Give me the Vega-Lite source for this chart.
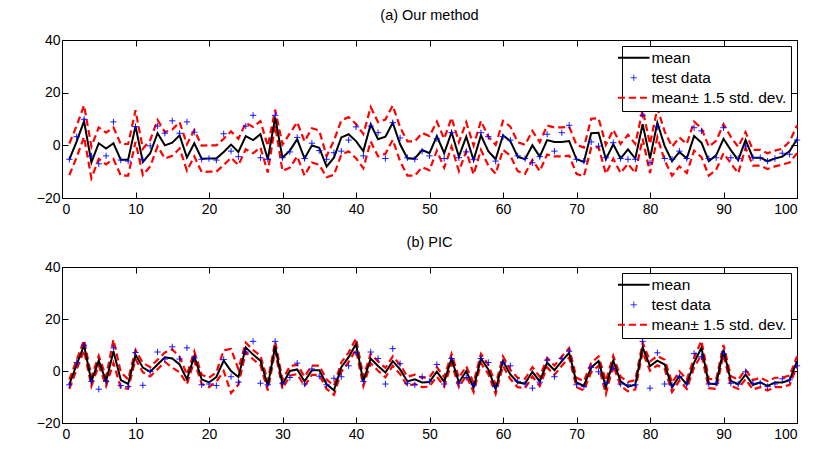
{
"$schema": "https://vega.github.io/schema/vega-lite/v6.json",
"padding": {"left": 35, "top": 7, "right": 5, "bottom": 5},
"config": {
  "font": "Liberation Sans",
  "view": {"stroke": "black", "strokeWidth": 1},
  "axis": {"grid": false, "domainColor": "black", "tickColor": "black", "tickSize": -6, "labelFontSize": 14, "labelColor": "black", "title": null},
  "axisX": {"labelPadding": 10},
  "axisY": {"labelPadding": 8},
  "title": {"fontSize": 14.5, "fontWeight": "normal", "font": "Liberation Sans", "anchor": "middle", "offset": 10, "color": "black"},
  "legend": {"orient": "top-right", "offset": 6, "fillColor": "white", "strokeColor": "black", "padding": 4, "labelFontSize": 15.5, "labelColor": "black", "symbolSize": 1000, "rowPadding": 3, "labelOffset": 10, "title": null}
},
"spacing": 17,
"resolve": {"scale": {"color": "independent"}},
"datasets": {
"a": [
{"x":1,"m":-5.3,"t":-5.3,"lo":-11.3,"hi":0.7},
{"x":2,"m":1.5,"t":3.3,"lo":-4.5,"hi":7.5},
{"x":3,"m":9.2,"t":9.9,"lo":3.2,"hi":15.2},
{"x":4,"m":-6.5,"t":-4,"lo":-12.5,"hi":-0.5},
{"x":5,"m":0.8,"t":-7,"lo":-5.2,"hi":6.8},
{"x":6,"m":-1.2,"t":-4,"lo":-7.2,"hi":4.8},
{"x":7,"m":0.8,"t":8.9,"lo":-5.2,"hi":6.8},
{"x":8,"m":-5.5,"t":-5.6,"lo":-11.5,"hi":0.5},
{"x":9,"m":-5.5,"t":-6,"lo":-11.5,"hi":0.5},
{"x":10,"m":7.3,"t":7.1,"lo":1.3,"hi":13.3},
{"x":11,"m":-6.3,"t":-5.5,"lo":-11.3,"hi":-1.3},
{"x":12,"m":-3,"t":-0.2,"lo":-8,"hi":2},
{"x":13,"m":4.6,"t":7.3,"lo":-0.4,"hi":9.6},
{"x":14,"m":0,"t":4.6,"lo":-5,"hi":5},
{"x":15,"m":1,"t":9.3,"lo":-4,"hi":6},
{"x":16,"m":3.8,"t":4.6,"lo":-1.2,"hi":8.8},
{"x":17,"m":-4.6,"t":8.9,"lo":-9.6,"hi":0.4},
{"x":18,"m":0.8,"t":5,"lo":-4.2,"hi":5.8},
{"x":19,"m":-5.1,"t":-5.3,"lo":-10.1,"hi":-0.1},
{"x":20,"m":-5,"t":-5,"lo":-10,"hi":0},
{"x":21,"m":-5,"t":-5.6,"lo":-10,"hi":0},
{"x":22,"m":-2.5,"t":4.4,"lo":-7.5,"hi":2.5},
{"x":23,"m":0.3,"t":-2.2,"lo":-4.7,"hi":5.3},
{"x":24,"m":-2.5,"t":-4.3,"lo":-7.5,"hi":2.5},
{"x":25,"m":3.5,"t":7.3,"lo":-1.5,"hi":8.5},
{"x":26,"m":2,"t":11.4,"lo":-3,"hi":7},
{"x":27,"m":4.2,"t":-4.7,"lo":-0.8,"hi":9.2},
{"x":28,"m":-5.3,"t":-5.3,"lo":-10.3,"hi":-0.3},
{"x":29,"m":10.5,"t":11.4,"lo":7.5,"hi":13.5},
{"x":30,"m":-4.7,"t":-4.7,"lo":-9.7,"hi":0.3},
{"x":31,"m":-2,"t":-2.5,"lo":-8.5,"hi":4.5},
{"x":32,"m":2.3,"t":3,"lo":-4.2,"hi":8.8},
{"x":33,"m":-5,"t":-5,"lo":-11.5,"hi":1.5},
{"x":34,"m":0,"t":0.8,"lo":-6.5,"hi":6.5},
{"x":35,"m":-0.9,"t":-2,"lo":-7.4,"hi":5.6},
{"x":36,"m":-8.1,"t":-5.3,"lo":-12.1,"hi":-4.1},
{"x":37,"m":-4.7,"t":-2.8,"lo":-11.2,"hi":1.8},
{"x":38,"m":3,"t":-2.2,"lo":-3.5,"hi":9.5},
{"x":39,"m":4.2,"t":2,"lo":-2.3,"hi":10.7},
{"x":40,"m":1.6,"t":7,"lo":-4.9,"hi":8.1},
{"x":41,"m":-2.2,"t":-4,"lo":-8.7,"hi":4.3},
{"x":42,"m":8,"t":7.3,"lo":1.5,"hi":14.5},
{"x":43,"m":2.3,"t":4.8,"lo":-4.2,"hi":8.8},
{"x":44,"m":3.3,"t":-5,"lo":-3.2,"hi":9.8},
{"x":45,"m":8.6,"t":8.6,"lo":2.1,"hi":15.1},
{"x":46,"m":0.4,"t":2.8,"lo":-6.1,"hi":6.9},
{"x":47,"m":-5,"t":-4.7,"lo":-11.5,"hi":1.5},
{"x":48,"m":-5,"t":-5.3,"lo":-11.5,"hi":1.5},
{"x":49,"m":-1.8,"t":-2.2,"lo":-8.3,"hi":4.7},
{"x":50,"m":-3,"t":-4,"lo":-9.5,"hi":3.5},
{"x":51,"m":3.5,"t":2.5,"lo":-2,"hi":9},
{"x":52,"m":-3,"t":-5,"lo":-8.5,"hi":2.5},
{"x":53,"m":5,"t":4.8,"lo":-0.5,"hi":10.5},
{"x":54,"m":-4.3,"t":-4.7,"lo":-9.8,"hi":1.2},
{"x":55,"m":3.3,"t":-2.5,"lo":-2.2,"hi":8.8},
{"x":56,"m":-5.6,"t":-5.3,"lo":-11.1,"hi":-0.1},
{"x":57,"m":3.8,"t":4.8,"lo":-1.7,"hi":9.3},
{"x":58,"m":-2.2,"t":3.3,"lo":-7.7,"hi":3.3},
{"x":59,"m":-5.3,"t":-6,"lo":-10.8,"hi":0.2},
{"x":60,"m":3.8,"t":3.3,"lo":-1.7,"hi":9.3},
{"x":61,"m":1.6,"t":2,"lo":-3.9,"hi":7.1},
{"x":62,"m":-4.3,"t":-4,"lo":-9.8,"hi":1.2},
{"x":63,"m":-5.3,"t":-5,"lo":-10.8,"hi":0.2},
{"x":64,"m":0,"t":-6.6,"lo":-5.5,"hi":5.5},
{"x":65,"m":-4.3,"t":-4.3,"lo":-9.8,"hi":1.2},
{"x":66,"m":2,"t":4.2,"lo":-3.5,"hi":7.5},
{"x":67,"m":1.3,"t":-2.2,"lo":-4.2,"hi":6.8},
{"x":68,"m":1.3,"t":4.8,"lo":-4.2,"hi":6.8},
{"x":69,"m":1.6,"t":7.6,"lo":-3.9,"hi":7.1},
{"x":70,"m":-5.3,"t":-5.3,"lo":-10.8,"hi":0.2},
{"x":71,"m":-6.3,"t":-6,"lo":-11.8,"hi":-0.8},
{"x":72,"m":4.6,"t":1.3,"lo":-0.9,"hi":10.1},
{"x":73,"m":4.8,"t":-0.3,"lo":-0.7,"hi":10.3},
{"x":74,"m":-5.3,"t":-4.7,"lo":-10.8,"hi":0.2},
{"x":75,"m":0.4,"t":1,"lo":-5.1,"hi":5.9},
{"x":76,"m":-5,"t":-5,"lo":-10.5,"hi":0.5},
{"x":77,"m":-1.5,"t":-5.3,"lo":-7,"hi":4},
{"x":78,"m":-5,"t":-5.3,"lo":-10.5,"hi":0.5},
{"x":79,"m":8,"t":11.4,"lo":2.5,"hi":13.5},
{"x":80,"m":-5,"t":-6.6,"lo":-10.5,"hi":0.5},
{"x":81,"m":8.6,"t":7,"lo":3.1,"hi":14.1},
{"x":82,"m":-0.3,"t":-5,"lo":-5.8,"hi":5.2},
{"x":83,"m":-6,"t":-5.3,"lo":-11.5,"hi":-0.5},
{"x":84,"m":-2.5,"t":-2.2,"lo":-8,"hi":3},
{"x":85,"m":-5,"t":-5,"lo":-10.5,"hi":0.5},
{"x":86,"m":3.5,"t":6.7,"lo":-2,"hi":9},
{"x":87,"m":1,"t":5.5,"lo":-4.5,"hi":6.5},
{"x":88,"m":-6,"t":-5,"lo":-11.5,"hi":-0.5},
{"x":89,"m":-3.8,"t":-4.7,"lo":-9.3,"hi":1.7},
{"x":90,"m":2.5,"t":6.7,"lo":-3,"hi":8},
{"x":91,"m":-1.8,"t":-4.7,"lo":-6.8,"hi":3.2},
{"x":92,"m":-5.6,"t":-5,"lo":-10.6,"hi":-0.6},
{"x":93,"m":2,"t":-0.3,"lo":-1,"hi":5},
{"x":94,"m":-4.7,"t":-4.7,"lo":-7.7,"hi":-1.7},
{"x":95,"m":-4.7,"t":-4.7,"lo":-7.7,"hi":-1.7},
{"x":96,"m":-6,"t":-6,"lo":-9,"hi":-3},
{"x":97,"m":-5,"t":-5,"lo":-8,"hi":-2},
{"x":98,"m":-4.3,"t":-3,"lo":-7.3,"hi":-1.3},
{"x":99,"m":-2.2,"t":-3.4,"lo":-6.5,"hi":1.5},
{"x":100,"m":2.3,"t":2,"lo":-3,"hi":7.5}
],
"b": [
{"x":1,"m":-5.1,"t":-5.3,"lo":-6.9,"hi":-3.3},
{"x":2,"m":2.5,"t":3.3,"lo":0.7,"hi":4.3},
{"x":3,"m":9.9,"t":9.9,"lo":7.9,"hi":11.9},
{"x":4,"m":-4,"t":-4,"lo":-5.8,"hi":-2.2},
{"x":5,"m":4,"t":-7,"lo":2.2,"hi":5.8},
{"x":6,"m":-4,"t":-4,"lo":-5.8,"hi":-2.2},
{"x":7,"m":7.6,"t":8.9,"lo":3.1,"hi":12.1},
{"x":8,"m":-3.5,"t":-5.6,"lo":-6.5,"hi":-0.5},
{"x":9,"m":-5,"t":-6,"lo":-6.8,"hi":-3.2},
{"x":10,"m":6.3,"t":7.1,"lo":4.5,"hi":8.1},
{"x":11,"m":1.3,"t":-5.5,"lo":-0.5,"hi":3.1},
{"x":12,"m":-0.3,"t":-0.2,"lo":-2.1,"hi":1.5},
{"x":13,"m":2.5,"t":7.3,"lo":0.7,"hi":4.3},
{"x":14,"m":5.3,"t":4.6,"lo":3.5,"hi":7.1},
{"x":15,"m":4.8,"t":9.3,"lo":1.3,"hi":8.3},
{"x":16,"m":2.5,"t":4.6,"lo":-0.5,"hi":5.5},
{"x":17,"m":-3.2,"t":8.9,"lo":-5,"hi":-1.4},
{"x":18,"m":5.7,"t":5,"lo":3.9,"hi":7.5},
{"x":19,"m":-3.2,"t":-5.3,"lo":-5,"hi":-1.4},
{"x":20,"m":-4.4,"t":-5,"lo":-6.2,"hi":-2.6},
{"x":21,"m":-2.3,"t":-5.6,"lo":-4.1,"hi":-0.5},
{"x":22,"m":4,"t":4.4,"lo":0,"hi":8},
{"x":23,"m":0,"t":-2.2,"lo":-8.5,"hi":8.5},
{"x":24,"m":-2.3,"t":-4.3,"lo":-5.3,"hi":0.7},
{"x":25,"m":9.1,"t":7.3,"lo":7.3,"hi":10.9},
{"x":26,"m":6.3,"t":11.4,"lo":4.5,"hi":8.1},
{"x":27,"m":4,"t":-4.7,"lo":2.2,"hi":5.8},
{"x":28,"m":-5.7,"t":-5.3,"lo":-7.5,"hi":-3.9},
{"x":29,"m":9.5,"t":11.4,"lo":7.7,"hi":11.3},
{"x":30,"m":-5.1,"t":-4.7,"lo":-6.9,"hi":-3.3},
{"x":31,"m":0,"t":-2.5,"lo":-1.8,"hi":1.8},
{"x":32,"m":0.6,"t":3,"lo":-1.2,"hi":2.4},
{"x":33,"m":-4,"t":-5,"lo":-5.8,"hi":-2.2},
{"x":34,"m":0.3,"t":0.8,"lo":-1.5,"hi":2.1},
{"x":35,"m":0.3,"t":-2,"lo":-1.5,"hi":2.1},
{"x":36,"m":-5.1,"t":-5.3,"lo":-6.9,"hi":-3.3},
{"x":37,"m":-7.4,"t":-2.8,"lo":-9.2,"hi":-5.6},
{"x":38,"m":1.5,"t":-2.2,"lo":-0.3,"hi":3.3},
{"x":39,"m":5.3,"t":2,"lo":3.5,"hi":7.1},
{"x":40,"m":10.4,"t":7,"lo":8.2,"hi":12.6},
{"x":41,"m":-4,"t":-4,"lo":-5.8,"hi":-2.2},
{"x":42,"m":4.8,"t":7.3,"lo":3,"hi":6.6},
{"x":43,"m":1.9,"t":4.8,"lo":0.1,"hi":3.7},
{"x":44,"m":-0.6,"t":-5,"lo":-2.4,"hi":1.2},
{"x":45,"m":3.8,"t":8.6,"lo":2,"hi":5.6},
{"x":46,"m":0.6,"t":2.8,"lo":-1.2,"hi":2.4},
{"x":47,"m":-4,"t":-4.7,"lo":-5.8,"hi":-2.2},
{"x":48,"m":-3.2,"t":-5.3,"lo":-5,"hi":-1.4},
{"x":49,"m":-4.4,"t":-2.2,"lo":-6.2,"hi":-2.6},
{"x":50,"m":-4.2,"t":-4,"lo":-6,"hi":-2.4},
{"x":51,"m":-0.3,"t":2.5,"lo":-2.1,"hi":1.5},
{"x":52,"m":-4.2,"t":-5,"lo":-6,"hi":-2.4},
{"x":53,"m":4.8,"t":4.8,"lo":3,"hi":6.6},
{"x":54,"m":-4.4,"t":-4.7,"lo":-6.2,"hi":-2.6},
{"x":55,"m":0,"t":-2.5,"lo":-1.8,"hi":1.8},
{"x":56,"m":-6.3,"t":-5.3,"lo":-8.1,"hi":-4.5},
{"x":57,"m":4.8,"t":4.8,"lo":3,"hi":6.6},
{"x":58,"m":0.6,"t":3.3,"lo":-1.2,"hi":2.4},
{"x":59,"m":-7,"t":-6,"lo":-8.8,"hi":-5.2},
{"x":60,"m":3.8,"t":3.3,"lo":2,"hi":5.6},
{"x":61,"m":-1.3,"t":2,"lo":-3.1,"hi":0.5},
{"x":62,"m":-4.4,"t":-4,"lo":-6.2,"hi":-2.6},
{"x":63,"m":-4.8,"t":-5,"lo":-6.6,"hi":-3},
{"x":64,"m":-0.3,"t":-6.6,"lo":-2.1,"hi":1.5},
{"x":65,"m":-4,"t":-4.3,"lo":-5.8,"hi":-2.2},
{"x":66,"m":3.2,"t":4.2,"lo":1.4,"hi":5},
{"x":67,"m":0.3,"t":-2.2,"lo":-1.5,"hi":2.1},
{"x":68,"m":3.8,"t":4.8,"lo":2,"hi":5.6},
{"x":69,"m":7,"t":7.6,"lo":5.2,"hi":8.8},
{"x":70,"m":-4.4,"t":-5.3,"lo":-6.2,"hi":-2.6},
{"x":71,"m":-5.7,"t":-6,"lo":-7.5,"hi":-3.9},
{"x":72,"m":1.3,"t":1.3,"lo":-0.5,"hi":3.1},
{"x":73,"m":3.8,"t":-0.3,"lo":2,"hi":5.6},
{"x":74,"m":-6.3,"t":-4.7,"lo":-8.8,"hi":-3.8},
{"x":75,"m":4,"t":1,"lo":2.2,"hi":5.8},
{"x":76,"m":-4,"t":-5,"lo":-5.8,"hi":-2.2},
{"x":77,"m":-6,"t":-5.3,"lo":-7.8,"hi":-4.2},
{"x":78,"m":-5.3,"t":-5.3,"lo":-7.1,"hi":-3.5},
{"x":79,"m":9.1,"t":11.4,"lo":7.3,"hi":10.9},
{"x":80,"m":1.9,"t":-6.6,"lo":0.1,"hi":3.7},
{"x":81,"m":4,"t":7,"lo":2.2,"hi":5.8},
{"x":82,"m":2.5,"t":-5,"lo":0.7,"hi":4.3},
{"x":83,"m":-6.3,"t":-5.3,"lo":-8.1,"hi":-4.5},
{"x":84,"m":-1.9,"t":-2.2,"lo":-3.7,"hi":-0.1},
{"x":85,"m":-5.1,"t":-5,"lo":-6.9,"hi":-3.3},
{"x":86,"m":3.2,"t":6.7,"lo":1.4,"hi":5},
{"x":87,"m":8.9,"t":5.5,"lo":6.2,"hi":11.6},
{"x":88,"m":-4.8,"t":-5,"lo":-6.6,"hi":-3},
{"x":89,"m":-5.1,"t":-4.7,"lo":-6.9,"hi":-3.3},
{"x":90,"m":8.2,"t":6.7,"lo":6.4,"hi":10},
{"x":91,"m":-3.8,"t":-4.7,"lo":-5.6,"hi":-2},
{"x":92,"m":-5.1,"t":-5,"lo":-6.9,"hi":-3.3},
{"x":93,"m":-1.3,"t":-0.3,"lo":-3.1,"hi":0.5},
{"x":94,"m":-5.3,"t":-4.7,"lo":-7.1,"hi":-3.5},
{"x":95,"m":-4.4,"t":-4.7,"lo":-6.2,"hi":-2.6},
{"x":96,"m":-5.7,"t":-6,"lo":-7.5,"hi":-3.9},
{"x":97,"m":-4.4,"t":-5,"lo":-6.2,"hi":-2.6},
{"x":98,"m":-4.4,"t":-3,"lo":-6.2,"hi":-2.6},
{"x":99,"m":-3.5,"t":-3.4,"lo":-5.3,"hi":-1.7},
{"x":100,"m":3.8,"t":2,"lo":2,"hi":5.6}
]
},
"vconcat": [
{
  "title": "(a) Our method",
  "width": 735, "height": 158,
  "data": {"name": "a"},
  "resolve": {"axis": {"x": "independent", "y": "independent"}},
  "layer": [
    {"mark": {"type": "line", "strokeDash": [7, 4], "strokeWidth": 2.2},
     "encoding": {
       "x": {"field": "x", "type": "quantitative", "scale": {"domain": [0, 100], "nice": false}, "axis": {"values": [0,10,20,30,40,50,60,70,80,90,100]}},
       "y": {"field": "hi", "type": "quantitative", "scale": {"domain": [-20, 40], "nice": false}, "axis": {"values": [-20, 0, 20, 40]}},
       "color": {"datum": "mean± 1.5 std. dev.", "type": "nominal", "scale": {"domain": ["mean", "test data", "mean± 1.5 std. dev."], "range": ["black", "blue", "red"]},
         "legend": {"encode": {"symbols": {"update": {
           "shape": {"signal": "datum.value === 'test data' ? 'M-1,0H1M0,-1V1' : 'stroke'"},
           "size": {"signal": "datum.value === 'test data' ? 40 : 1000"},
           "strokeDash": {"signal": "datum.value === 'mean± 1.5 std. dev.' ? [7,4] : [1,0]"},
           "strokeWidth": {"signal": "datum.value === 'test data' ? 0.9 : 2.2"},
           "fill": {"value": "transparent"}}}}}}}},
    {"mark": {"type": "line", "strokeDash": [7, 4], "strokeWidth": 2.2},
     "encoding": {
       "x": {"field": "x", "type": "quantitative", "axis": {"orient": "top", "labels": false, "domain": false, "values": [0,10,20,30,40,50,60,70,80,90,100]}},
       "y": {"field": "lo", "type": "quantitative", "axis": {"orient": "right", "labels": false, "domain": false, "values": [-20, 0, 20, 40]}},
       "color": {"datum": "mean± 1.5 std. dev.", "type": "nominal"}}},
    {"mark": {"type": "line", "strokeWidth": 2},
     "encoding": {"x": {"field": "x", "type": "quantitative", "axis": null}, "y": {"field": "m", "type": "quantitative", "axis": null}, "color": {"datum": "mean", "type": "nominal"}}},
    {"mark": {"type": "point", "shape": "M-1,0H1M0,-1V1", "filled": false, "size": 40, "strokeWidth": 0.9, "opacity": 1},
     "encoding": {"x": {"field": "x", "type": "quantitative", "axis": null}, "y": {"field": "t", "type": "quantitative", "axis": null}, "color": {"datum": "test data", "type": "nominal"}}}
  ]
},
{
  "title": "(b) PIC",
  "width": 735, "height": 156,
  "data": {"name": "b"},
  "resolve": {"axis": {"x": "independent", "y": "independent"}},
  "layer": [
    {"mark": {"type": "line", "strokeDash": [7, 4], "strokeWidth": 2.2},
     "encoding": {
       "x": {"field": "x", "type": "quantitative", "scale": {"domain": [0, 100], "nice": false}, "axis": {"values": [0,10,20,30,40,50,60,70,80,90,100]}},
       "y": {"field": "hi", "type": "quantitative", "scale": {"domain": [-20, 40], "nice": false}, "axis": {"values": [-20, 0, 20, 40]}},
       "color": {"datum": "mean± 1.5 std. dev.", "type": "nominal", "scale": {"domain": ["mean", "test data", "mean± 1.5 std. dev."], "range": ["black", "blue", "red"]},
         "legend": {"encode": {"symbols": {"update": {
           "shape": {"signal": "datum.value === 'test data' ? 'M-1,0H1M0,-1V1' : 'stroke'"},
           "size": {"signal": "datum.value === 'test data' ? 40 : 1000"},
           "strokeDash": {"signal": "datum.value === 'mean± 1.5 std. dev.' ? [7,4] : [1,0]"},
           "strokeWidth": {"signal": "datum.value === 'test data' ? 0.9 : 2.2"},
           "fill": {"value": "transparent"}}}}}}}},
    {"mark": {"type": "line", "strokeDash": [7, 4], "strokeWidth": 2.2},
     "encoding": {
       "x": {"field": "x", "type": "quantitative", "axis": {"orient": "top", "labels": false, "domain": false, "values": [0,10,20,30,40,50,60,70,80,90,100]}},
       "y": {"field": "lo", "type": "quantitative", "axis": {"orient": "right", "labels": false, "domain": false, "values": [-20, 0, 20, 40]}},
       "color": {"datum": "mean± 1.5 std. dev.", "type": "nominal"}}},
    {"mark": {"type": "line", "strokeWidth": 2},
     "encoding": {"x": {"field": "x", "type": "quantitative", "axis": null}, "y": {"field": "m", "type": "quantitative", "axis": null}, "color": {"datum": "mean", "type": "nominal"}}},
    {"mark": {"type": "point", "shape": "M-1,0H1M0,-1V1", "filled": false, "size": 40, "strokeWidth": 0.9, "opacity": 1},
     "encoding": {"x": {"field": "x", "type": "quantitative", "axis": null}, "y": {"field": "t", "type": "quantitative", "axis": null}, "color": {"datum": "test data", "type": "nominal"}}}
  ]
}
]
}
